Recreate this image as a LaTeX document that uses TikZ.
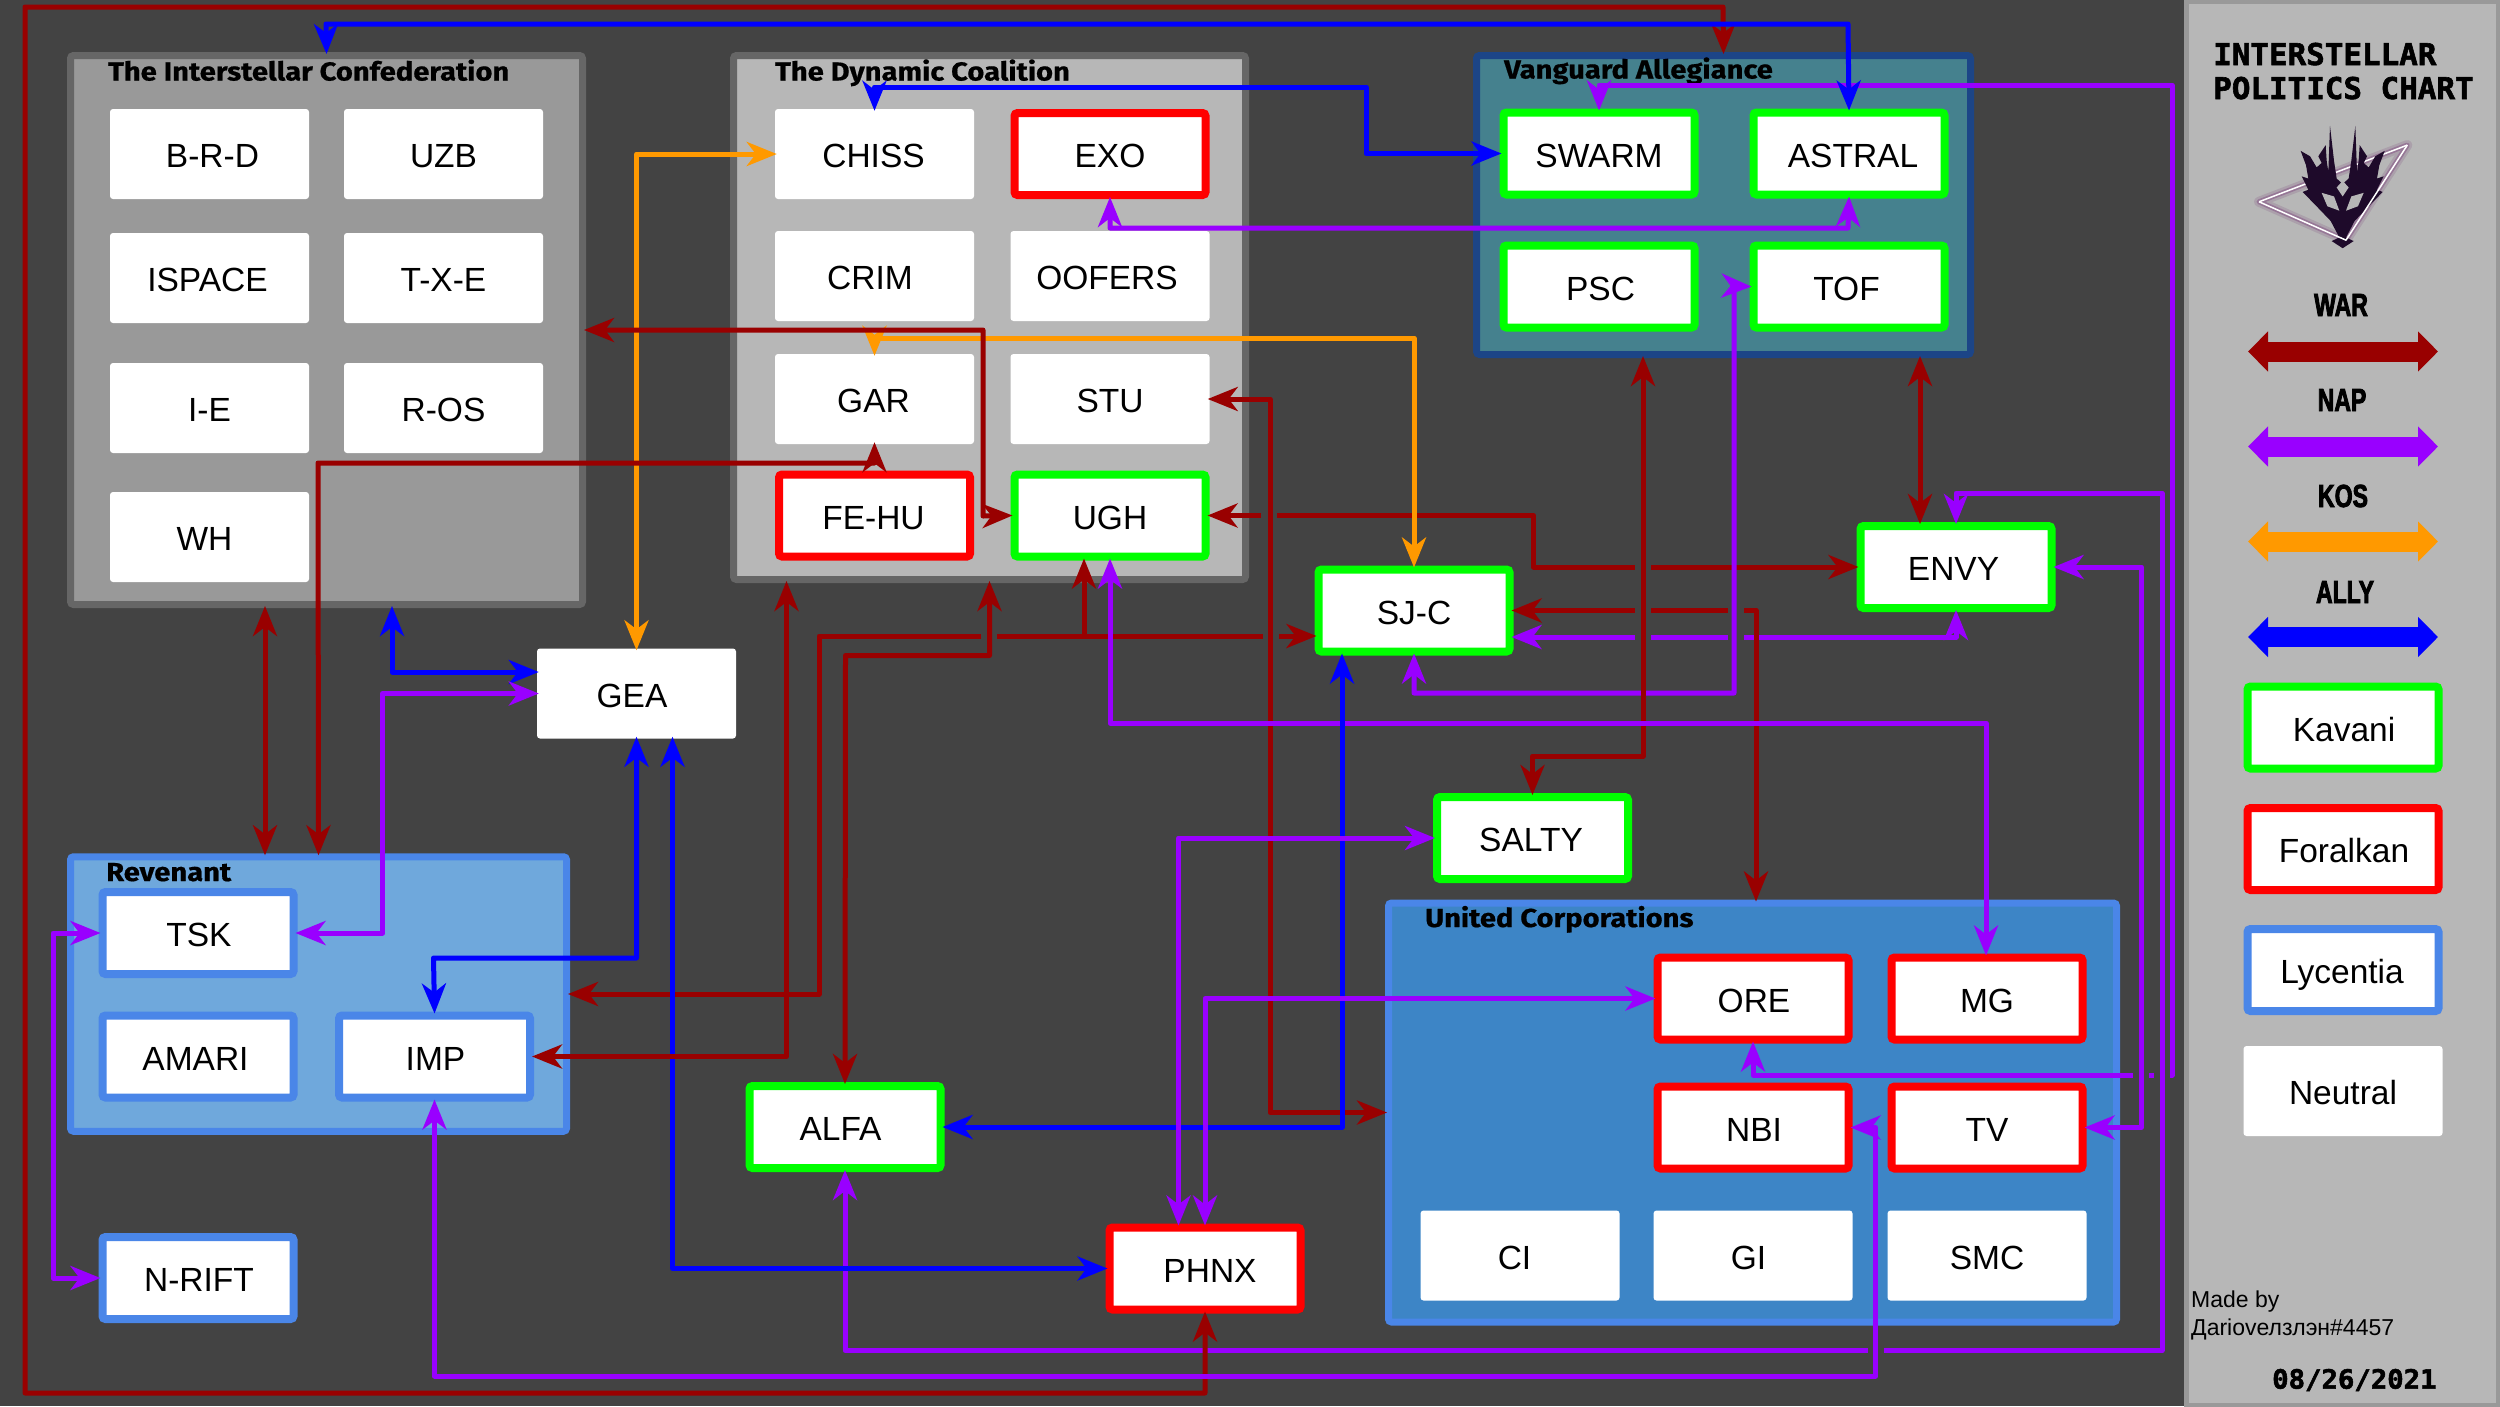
\documentclass[tikz,border=0pt]{standalone}
\usepackage{fontspec}
\usepackage{tikz}
\usetikzlibrary{arrows.meta}
\setmainfont{Liberation Sans}
\newfontfamily\groupfont[FakeStretch=1.12,FakeBold=0.6]{Fira Sans}
\newfontfamily\chartfont[FakeBold=2,FakeStretch=1.03]{DejaVu Sans Mono}
\newfontfamily\headfont[FakeStretch=0.72,FakeBold=2.5]{Liberation Sans}
\definecolor{bgdark}{HTML}{434343}
\definecolor{panel}{HTML}{B7B7B7}
\definecolor{midgray}{HTML}{999999}
\definecolor{edgegray}{HTML}{666666}
\definecolor{warred}{HTML}{990000}
\definecolor{napviolet}{HTML}{9900FF}
\definecolor{kosorange}{HTML}{FF9900}
\definecolor{allyblue}{HTML}{0000FF}
\definecolor{lycblue}{HTML}{4A86E8}
\definecolor{lightblue}{HTML}{6FA8DC}
\definecolor{corpblue}{HTML}{3D85C6}
\definecolor{vanblue}{HTML}{1C4587}
\definecolor{vanteal}{HTML}{45818E}
\definecolor{dragon}{HTML}{1E0A2A}

\begin{document}
\begin{tikzpicture}[x=1pt, y=-1pt, node distance=234pt,
		tipped/.style={{Stealth[length=30pt,width=24pt,inset=9pt]}-{Stealth[length=30pt,width=24pt,inset=9pt]}, line width=5pt, line join=round, shorten >=-2pt, shorten <=-2pt},
		war/.style={tipped, draw=warred},
		nap/.style={tipped, draw=napviolet},
		kos/.style={tipped, draw=kosorange},
		ally/.style={tipped, draw=allyblue},
		gapline/.style={draw=bgdark, line width=7pt},
		bigtip/.style={{Triangle[length=20pt,width=39pt]}-{Triangle[length=20pt,width=39pt]}, line width=20pt},
		cell/.style={rectangle, rounded corners=3pt, fill=white, inner sep=0pt, minimum width=199pt, minimum height=90pt, text height=27pt, text depth=0pt, font=\fontsize{33.5}{40}\selectfont},
		ringed/.style={cell, line width=8pt, minimum width=191pt, minimum height=82pt},
		kavani/.style={ringed, draw=green},
		foralkan/.style={ringed, draw=red},
		lycentia/.style={ringed, draw=lycblue},
		nudge/.style={execute at begin node={\hspace*{#1}}},
		groupbox/.style={rectangle, rounded corners=3pt, line width=7pt, inner sep=0pt},
		grouptitle/.style={anchor=base west, inner sep=0pt, font=\groupfont\bfseries\fontsize{26}{30}\selectfont},
		charttitle/.style={anchor=base west, inner sep=0pt, font=\chartfont\bfseries\fontsize{30}{34}\selectfont},
		legendhead/.style={inner sep=0pt, font=\headfont\bfseries\fontsize{32}{36}\selectfont}]
		\useasboundingbox (0,0) rectangle (2500,1406);
		\fill[bgdark] (0,0) rectangle (2500,1406);
		\draw[midgray, line width=5pt, fill=panel] (2186.5,1.5) rectangle (2498.5,1405);

		\node (IC) [groupbox, fill=midgray, draw=edgegray, minimum width=512pt, minimum height=549pt] at (326.5,330) {};
		\node (DC) [groupbox, fill=panel, draw=edgegray, minimum width=512pt, minimum height=524pt] at (989.5,317.5) {};
		\node (VA) [groupbox, fill=vanteal, draw=vanblue, minimum width=494pt, minimum height=299pt] at (1723.5,205) {};
		\node (REV) [groupbox, fill=lightblue, draw=lycblue, minimum width=496pt, minimum height=274.5pt] at (318.5,994) {};
		\node (UC) [groupbox, fill=corpblue, draw=lycblue, minimum width=728pt, minimum height=419pt] at (1752.5,1112.5) {};
		\node (ICtitle) [grouptitle] at (108,80.5) {The Interstellar Confederation};
		\node (DCtitle) [grouptitle] at (775,80.5) {The Dynamic Coalition};
		\node (VAtitle) [grouptitle] at (1504,78.5) {Vanguard Allegiance};
		\node (REVtitle) [grouptitle] at (106,881) {Revenant};
		\node (UCtitle) [grouptitle] at (1425,927) {United Corporations};

		\node (BRD) [cell, nudge=6pt] at (209.5,154) {B-R-D};
		\node (UZB) [cell, right of=BRD] {UZB};
		\node (ISPACE) [cell, below of=BRD, node distance=124pt, nudge=-4pt] {ISPACE};
		\node (TXE) [cell, right of=ISPACE] {T-X-E};
		\node (IE) [cell, below of=ISPACE, node distance=130pt] {I-E};
		\node (ROS) [cell, right of=IE] {R-OS};
		\node (WH) [cell, below of=IE, node distance=129pt, nudge=-10pt] {WH};

		\node (CHISS) [cell, nudge=-2pt] at (874.5,154) {CHISS};
		\node (EXO) [foralkan, right of=CHISS, node distance=235.5pt] {EXO};
		\node (CRIM) [cell, below of=CHISS, node distance=122pt, nudge=-9pt] {CRIM};
		\node (OOFERS) [cell, right of=CRIM, node distance=235.5pt, nudge=-6pt] {OOFERS};
		\node (GAR) [cell, below of=CRIM, node distance=123pt, nudge=-2pt] {GAR};
		\node (STU) [cell, right of=GAR, node distance=235.5pt] {STU};
		\node (FEHU) [foralkan, below of=GAR, node distance=116.5pt, nudge=-2pt] {FE-HU};
		\node (UGH) [kavani, right of=FEHU, node distance=235.5pt] {UGH};

		\node (SWARM) [kavani] at (1599,153.5) {SWARM};
		\node (ASTRAL) [kavani, right of=SWARM, node distance=250pt, nudge=8pt] {ASTRAL};
		\node (PSC) [kavani, below of=SWARM, node distance=133pt, nudge=3pt] {PSC};
		\node (TOF) [kavani, right of=PSC, node distance=250pt, nudge=-5pt] {TOF};

		\node (TSK) [lycentia, nudge=2pt] at (198,933) {TSK};
		\node (AMARI) [lycentia, below of=TSK, node distance=123.5pt, nudge=-5pt] {AMARI};
		\node (IMP) [lycentia, right of=AMARI, node distance=236.5pt, nudge=2pt] {IMP};
		\node (NRIFT) [lycentia, below of=AMARI, node distance=221.5pt, nudge=2pt] {N-RIFT};

		\node (ORE) [foralkan, nudge=2pt] at (1753,998.5) {ORE};
		\node (MG) [foralkan, right of=ORE] {MG};
		\node (NBI) [foralkan, below of=ORE, node distance=129pt, nudge=2pt] {NBI};
		\node (TV) [foralkan, right of=NBI] {TV};
		\node (GI) [cell, below of=NBI, node distance=128pt, nudge=-9pt] {GI};
		\node (CI) [cell, left of=GI, node distance=233pt, nudge=-11pt] {CI};
		\node (SMC) [cell, right of=GI] {SMC};

		\node (GEA) [cell, nudge=-9pt] at (636.5,693.5) {GEA};
		\node (ALFA) [kavani, nudge=-9pt] at (845,1127) {ALFA};
		\node (PHNX) [foralkan, nudge=10pt] at (1205,1268.5) {PHNX};
		\node (SJC) [kavani] at (1414,610.5) {SJ-C};
		\node (ENVY) [kavani, nudge=-5pt] at (1956,567) {ENVY};
		\node (SALTY) [kavani, nudge=-3pt] at (1532.5,838) {SALTY};

		\draw[nap](SWARM.north) |- (2172,85) -- (2172,1075) -| (ORE.south);
		\draw[nap](SJC.east |- 0,637) -| (ENVY.south);
		\draw[war](SJC.east) -| (UC.north -| 1756,0);
		\draw[war](UGH.east) -| (1533.5,567) -- (ENVY.west);
		\draw[war](REV.east) -| (819,636) -- (SJC.west |- 0,636);
		\draw[gapline](2133,1075) -- (2149,1075) (2154,1075) -- (2170,1075);
		\draw[gapline](1635,637) -- (1651,637) (1728,637) -- (1744,637);
		\draw[gapline](1635,610.5) -- (1651,610.5) (1728,610.5) -- (1744,610.5);
		\draw[gapline](1261,515.5) -- (1277,515.5) (1635,567) -- (1651,567);
		\draw[gapline](980.5,636) -- (996.5,636) (1263,636) -- (1279,636);
		\draw[nap](ENVY.north) |- (2162,493) -- (2162,1350.5) -| (ALFA.south);
		\draw[gapline](1868,1350.5) -- (1884,1350.5);

		\draw[war](VA.north) -- (1723,7) -- (25,7) -- (25,1393) -| (PHNX.south);
		\draw[ally](IC.north) -- (326,24) -- (1848,24) -- (ASTRAL.north);
		\draw[kos](GEA.north) |- (CHISS.west);
		\draw[ally](CHISS.north) |- (1366,87) |- (SWARM.west);
		\draw[nap](EXO.south) |- (1848,228) -- (ASTRAL.south);
		\draw[nap](TOF.west) -- (1734,286) -- (1734,693) -| (SJC.south);
		\draw[war](VA.south -| 1643,0) -- (1643,756) -| (SALTY.north);
		\draw[war](VA.south -| 1920,0) to (ENVY.north -| 1920,0);
		\draw[nap](ENVY.east) -- (2141.5,567) |- (TV.east);
		\draw[war](STU.east) -| (1270,1112.5) -- (UC.west);
		\draw[kos](GAR.north) |- (1414,338) -- (SJC.north);
		\draw[war](IC.east |- 0,330) -| (983,516) -- (UGH.west);
		\draw[war](GAR.south) |- (318,463) -- (REV.north);
		\draw[war](IC.south -| 265,0) to (REV.north -| 265,0);
		\draw[ally](IC.south -| 392,0) |- (GEA.west |- 0,672);
		\draw[nap](GEA.west |- 0,693.5) -| (382.5,933) -- (TSK.east);
		\draw[ally](GEA.south) |- (433.5,958) -- (IMP.north);
		\draw[ally](GEA.south -| 672.5,0) |- (PHNX.west);
		\draw[nap](TSK.west) -- (53,933) |- (NRIFT.west);
		\draw[nap](IMP.south) |- (1875.5,1376) |- (NBI.east);
		\draw[{Stealth[length=30pt,width=24pt,inset=9pt]}-, line width=5pt, draw=warred, shorten <=-2pt](UGH.south -| 1084,0) -- (1084,636);
		\draw[war](DC.south -| 786.5,0) |- (IMP.east);
		\draw[war](DC.south) |- (845.5,655.5) -- (ALFA.north);
		\draw[nap](UGH.south) |- (1986,723) -- (MG.north -| 1986,0);
		\draw[ally](SJC.south -| 1342,0) |- (ALFA.east);
		\draw[nap](SALTY.west) -| (PHNX.north -| 1178.5,0);
		\draw[nap](ORE.west) -| (PHNX.north);

		\node (TITLEA) [charttitle] at (2213,65) {INTERSTELLAR};
		\node (TITLEB) [charttitle] at (2213,99) {POLITICS CHART};

		\begin{scope}[shift={(2180pt,0pt)}, x=.3333pt, y=-.4464pt]
		\draw[violet!70!black, opacity=.12, line width=10pt, line join=round] (237,452) -- (682,325) -- (498,538) -- cycle;
		\draw[violet!70!black, opacity=.25, line width=5pt, line join=round] (237,452) -- (682,325) -- (498,538) -- cycle;
		\draw[white, line width=1.5pt] (237,452) -- (682,325);
		\fill[dragon] (488,556) -- (455,540) -- (478,532) -- (452,495) -- (420,470) -- (368,430) -- (385,425) -- (365,395) -- (385,400) -- (378,370) -- (362,338) -- (390,350) -- (410,375) -- (425,365) -- (415,350) -- (437,325) -- (440,360) -- (445,385) -- (450,282) -- (462,360) -- (470,400) -- (488,412)
			-- (506,400) -- (514,360) -- (526,282) -- (531,385) -- (536,360) -- (539,325) -- (561,350) -- (551,365) -- (566,375) -- (586,350) -- (614,338) -- (598,370) -- (591,400) -- (611,395) -- (591,425) -- (608,430) -- (556,470) -- (524,495) -- (498,532) -- (521,540) -- cycle;
		\fill[panel] (425,432) -- (462,440) -- (478,472) -- (442,462) -- cycle;
		\fill[panel] (551,432) -- (514,440) -- (498,472) -- (534,462) -- cycle;
		\fill[panel] (488,405) -- (506,420) -- (488,440) -- (470,420) -- cycle;
		\draw[white, line width=1.5pt, line join=round] (237,452) -- (498,538) -- (682,325);
		\end{scope}

		\node (WAR) [legendhead] at (2341,305) {WAR};
		\node (NAP) [legendhead] at (2342,400) {NAP};
		\node (KOS) [legendhead] at (2343,496) {KOS};
		\node (ALLY) [legendhead] at (2345,592) {ALLY};
		\coordinate (warA) at (2248,351.5);
		\coordinate (warB) at (2438,351.5);
		\coordinate (napA) at (2248,446.5);
		\coordinate (napB) at (2438,446.5);
		\coordinate (kosA) at (2248,541.5);
		\coordinate (kosB) at (2438,541.5);
		\coordinate (allyA) at (2248,637);
		\coordinate (allyB) at (2438,637);
		\draw[bigtip, draw=warred](warA) -- (warB);
		\draw[bigtip, draw=napviolet](napA) -- (napB);
		\draw[bigtip, draw=kosorange](kosA) -- (kosB);
		\draw[bigtip, draw=allyblue](allyA) -- (allyB);

		\node (KAV) [kavani, nudge=2pt] at (2343,727.5) {Kavani};
		\node (FOR) [foralkan, below of=KAV, node distance=121.5pt, nudge=2pt] {Foralkan};
		\node (LYC) [lycentia, below of=FOR, node distance=121pt, nudge=-2pt] {Lycentia};
		\node (NEU) [cell, below of=LYC, node distance=121pt] {Neutral};

		\node (MADE) [anchor=west, inner sep=0pt, font=\fontsize{23}{27}\selectfont] at (2191,1302) {Made by};
		\node (AUTHOR) [anchor=west, inner sep=0pt, font=\fontsize{23}{27}\selectfont] at (2191,1329) {Дariovелзлэн\#4457};
		\node (DATE) [anchor=west, inner sep=0pt, font=\chartfont\bfseries\fontsize{26.5}{30}\selectfont] at (2272,1380) {08/26/2021};
		\end{tikzpicture}
\end{document}
